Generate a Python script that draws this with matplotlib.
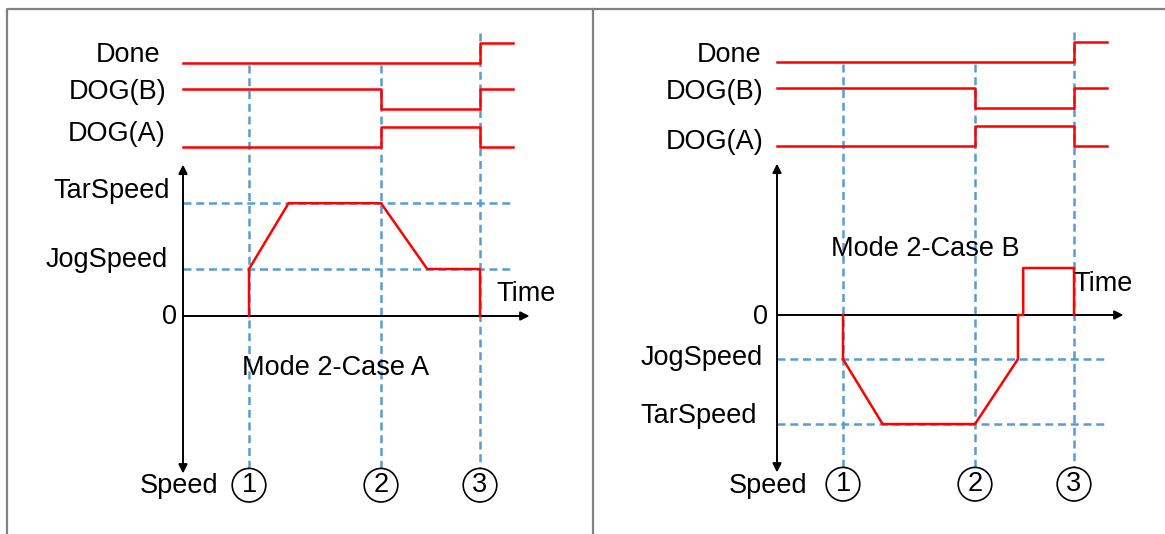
import matplotlib
matplotlib.use("Agg")
import matplotlib.pyplot as plt

plt.rcParams['font.family'] = ['Liberation Sans', 'DejaVu Sans']

W, H = 1165, 534
TU, SU = 66, 47   # pixels per time unit / per speed unit

# event instants (1), (2), (3) and end of the traces
events = [1.0, 3.0, 4.5]
event_labels = ["1", "2", "3"]
t_end = 5.0

# digital signals: step traces (post), 0 = low, 1 = high
sig_names = ["Done", "DOG(B)", "DOG(A)"]
sig_times = [[0, 4.5, 5.0], [0, 3.0, 4.5, 5.0], [0, 3.0, 4.5, 5.0]]
sig_states = [[0, 1, 1], [1, 0, 1, 1], [0, 1, 0, 0]]
sig_low = [5.38, 4.40, 3.60]
sig_amp = 0.42

# speed profiles
jog_a, tar_a = 1.0, 2.4
speed_t_a = [1.0, 1.0, 1.6, 3.0, 3.7, 4.5, 4.5]
speed_v_a = [0, jog_a, tar_a, tar_a, jog_a, jog_a, 0]

jog_b, tar_b = -0.94, -2.32
speed_t_b = [1.0, 1.0, 1.6, 3.0, 3.65, 3.65, 3.73, 3.73, 4.5, 4.5]
speed_v_b = [0, jog_b, tar_b, tar_b, jog_b, 0, 0, 1.0, 1.0, 0]

RED = "#FF0000"
BLUE = "#5B9BD5"
FS = 19.5
DASH = (0, (3.2, 1.9))

fig = plt.figure(figsize=(W / 100, H / 100), dpi=100)


def make_axes(px0, px1, ox, oy):
    ax = fig.add_axes([px0 / W, 0, (px1 - px0) / W, 1])
    ax.set_xlim((px0 - ox) / TU, (px1 - ox) / TU)
    ax.set_ylim(-(H - oy) / SU, oy / SU)
    ax.axis("off")
    return ax


def panel(ax, ox, oy, spd_t, spd_v, jog, tar, title, title_xy, time_xy, lbl_px):
    P = lambda px, py: ((px - ox) / TU, (oy - py) / SU)

    # digital traces
    for times, states, low in zip(sig_times, sig_states, sig_low):
        ys = [low + s * sig_amp for s in states]
        ax.step(times, ys, where="post", color=RED, lw=1.8, zorder=3)
    for name, (lx, ly) in zip(sig_names, lbl_px["sig"]):
        ax.text(*P(lx, ly), name, fontsize=FS, ha="right", va="center")

    # axes arrows
    ax.annotate("", xy=(0, -3.35), xytext=(0, 3.22),
                arrowprops=dict(arrowstyle="<|-|>", color="black", lw=1.4,
                                mutation_scale=13, shrinkA=0, shrinkB=0))
    ax.annotate("", xy=(5.25, 0), xytext=(0, 0),
                arrowprops=dict(arrowstyle="-|>", color="black", lw=1.4,
                                mutation_scale=13, shrinkA=0, shrinkB=0))

    # guide lines
    for lvl in (jog, tar):
        ax.plot([0, t_end], [lvl, lvl], color=BLUE, lw=1.8, ls=DASH, zorder=1)
    tops = [sig_low[0] - 0.05, sig_low[0] - 0.05, sig_low[0] + 0.65]
    for t, top, lab in zip(events, tops, event_labels):
        ax.plot([t, t], [top, -3.25], color=BLUE, lw=1.8, ls=DASH, zorder=1)
        ax.text(t, -3.6, lab, fontsize=FS, ha="center", va="center",
                bbox=dict(boxstyle="circle,pad=0.14", fc="white", ec="black", lw=1.2))

    # speed curve
    ax.plot(spd_t, spd_v, color=RED, lw=1.8, zorder=3)

    ax.text(*P(*lbl_px["tar"]), "TarSpeed", fontsize=FS, ha="right", va="center")
    ax.text(*P(*lbl_px["jog"]), "JogSpeed", fontsize=FS, ha="right", va="center")
    ax.text(*P(*lbl_px["zero"]), "0", fontsize=FS, ha="right", va="center")
    ax.text(*P(*lbl_px["speed"]), "Speed", fontsize=FS, ha="right", va="center")
    ax.text(*P(*time_xy), "Time", fontsize=FS, ha="left", va="center")
    ax.text(*P(*title_xy), title, fontsize=FS, ha="center", va="center")


ax_a = make_axes(0, 593, 183, 316)
panel(ax_a, 183, 316, speed_t_a, speed_v_a, jog_a, tar_a, "Mode 2-Case A",
      (336, 368), (496, 294),
      {"sig": [(160, 55), (166, 92), (165, 134)], "tar": (170, 191),
       "jog": (168, 260), "zero": (177, 317), "speed": (218, 486)})

ax_b = make_axes(593, W, 777, 315)
panel(ax_b, 777, 315, speed_t_b, speed_v_b, jog_b, tar_b, "Mode 2-Case B",
      (925, 249), (1073, 284),
      {"sig": [(761, 55), (763, 92), (763, 142)], "tar": (757, 416),
       "jog": (763, 358), "zero": (768, 317), "speed": (807, 486)})

# frame of the two table cells
frame = fig.add_axes([0, 0, 1, 1])
frame.set_xlim(0, W)
frame.set_ylim(H, 0)
frame.axis("off")
frame.patch.set_alpha(0)
frame.plot([7, 7, W], [H, 9, 9], color="#808080", lw=1.6)
frame.plot([593, 593], [9, H], color="#808080", lw=1.6)

fig.savefig("out.png", dpi=100)
